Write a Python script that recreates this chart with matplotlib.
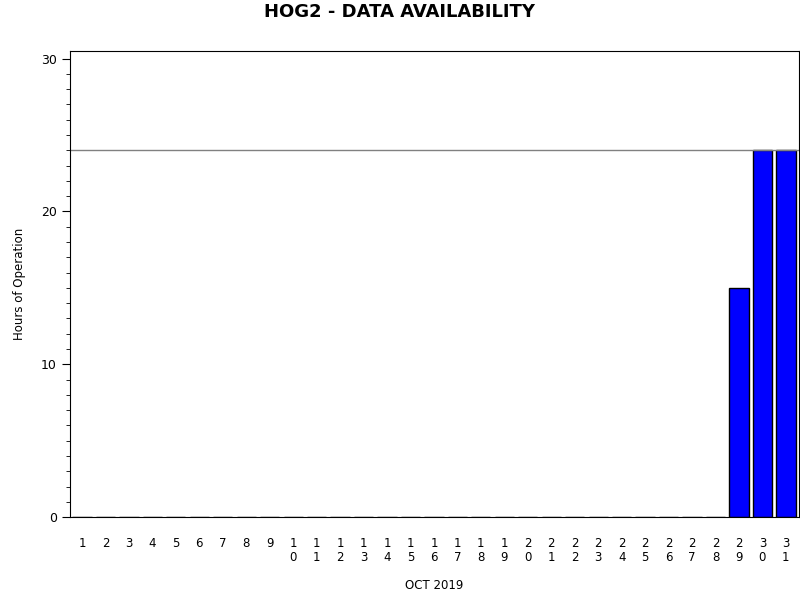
import numpy as np
import matplotlib
matplotlib.use("Agg")
import matplotlib.pyplot as plt
from matplotlib.ticker import MultipleLocator

# Daily hours of operation, October 2019
days = list(range(1, 32))
hours = [0] * 28 + [15, 24, 24]
day_labels = ["\n".join(str(d)) for d in days]

fig = plt.figure(figsize=(8, 6), dpi=100)
ax = fig.add_axes([0.0875, 0.138, 0.911, 0.777])

ax.bar(days, hours, width=0.82, color="#0000ff", edgecolor="black", linewidth=1)
ax.axhline(24, color="#808080", linewidth=1)

ax.set_xlim(0.49, 31.55)
ax.set_ylim(0, 30.5)
ax.set_xticks(days)
ax.set_xticklabels(day_labels, fontsize=8.5, linespacing=1.1, va="top")
ax.tick_params(axis="x", length=0, pad=14)
ax.set_yticks([0, 10, 20, 30])
ax.yaxis.set_minor_locator(MultipleLocator(1))
ax.tick_params(axis="y", which="major", length=6, labelsize=9)
ax.tick_params(axis="y", which="minor", length=3)

ax.set_xlabel("OCT 2019", fontsize=8.5, labelpad=11)
ax.set_ylabel("Hours of Operation", fontsize=8.5, labelpad=11)
fig.suptitle("HOG2 - DATA AVAILABILITY", fontsize=13, fontweight="bold", y=0.995)

fig.savefig("out.png", dpi=100)
